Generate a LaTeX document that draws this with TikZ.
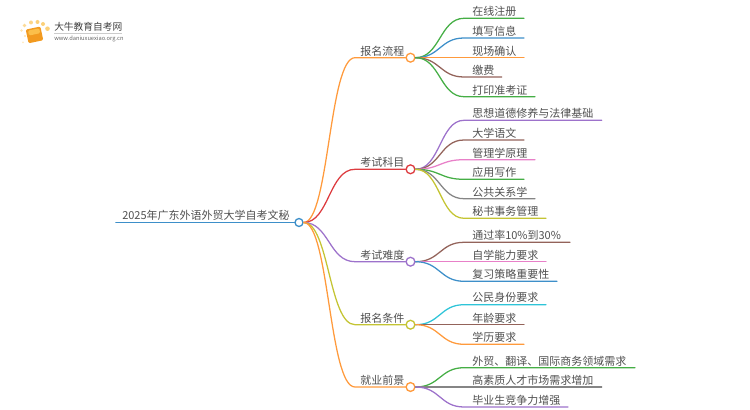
\documentclass[tikz,border=0pt]{standalone}
\usepackage{fontspec}
\setmainfont{Noto Sans CJK SC}
\usepackage{xcolor}
\usetikzlibrary{positioning}
\definecolor{cblue}{HTML}{3D8FC9}
\definecolor{corange}{HTML}{FF9A3C}
\definecolor{cgreen}{HTML}{45AE45}
\definecolor{cred}{HTML}{DD3C40}
\definecolor{cpurple}{HTML}{9D72CB}
\definecolor{cbrown}{HTML}{93635A}
\definecolor{cpink}{HTML}{E880C8}
\definecolor{cgray}{HTML}{858585}
\definecolor{colive}{HTML}{C4C433}
\definecolor{ccyan}{HTML}{2EC4D8}
\definecolor{ctext}{HTML}{505050}
\definecolor{cbook}{HTML}{F29A1F}
\definecolor{cpage}{HTML}{FBBF4A}
\definecolor{cspot}{HTML}{FBCB6A}
\tikzset{
  dot/.style={circle,draw,fill=white,line width=1pt,minimum size=6.6pt,inner sep=0pt},
  link/.style={line width=.95pt,line cap=round},
  label/.style={anchor=south west,inner sep=0pt,text=ctext,font=\fontsize{8.25pt}{9pt}\selectfont},
}

\begin{document}
\begin{tikzpicture}[x=0.75pt,y=-0.75pt]
\useasboundingbox (0,0) rectangle (750,410);

% link geometry
\def\rx{355} % where the first level links turn flat
\def\lx{464} % where the leaf links turn flat
\def\tx{472} % left edge of the leaf labels

% root
\node[dot,draw=cblue,minimum size=6pt] (root) at (299,222.5) {};
\coordinate (rootend) at (116,222.5);
\draw[link,cblue,line width=1.4pt] (root.west) -- (rootend);
\node[label] (roottext) at (122,220.9) {2025年广东外语外贸大学自考文秘};

% first level and leaves
\foreach \name/\y/\c/\t/\leaves in {
  flow/57.7/corange/报名流程/{18.3/524/cgreen/在线注册,38/524/cblue/填写信息,57.7/524/corange/现场确认,77/501.7/cbrown/缴费,96.7/535/cgreen/打印准考证},
  subj/169.3/cred/考试科目/{120.3/601.7/cpurple/思想道德修养与法律基础,140/524/cbrown/大学语文,159.7/535/cpink/管理学原理,179.3/524/cgreen/应用写作,198.7/535/cgray/公共关系学,218.3/546/colive/秘书事务管理},
  hard/261.7/cpurple/考试难度/{242.3/570/cbrown/通过率10\%到30\%,261.7/546/cpink/自学能力要求,281.3/557/cblue/复习策略重要性},
  cond/324.7/colive/报名条件/{304.7/546/ccyan/公民身份要求,324.7/524/cbrown/年龄要求,344.3/524/corange/学历要求},
  jobs/387/corange/就业前景/{367.7/635/cgreen/外贸、翻译、国际商务领域需求,387/601.7/cgray/高素质人才市场需求增加,407/568/cpurple/毕业生竞争力增强}%
}{
  \coordinate (\name turn) at (\rx,\y);
  \node[dot,draw=\c] (\name) at (410.5,\y) {};
  \node[label] (\name text) at (360,\y-1.5) {\t};
  \draw[link,\c] (root.east) .. controls (329,222.5) and (329,\y) .. (\name turn) -- (\name.west);
  \foreach \ly/\lend/\lc/\lt [count=\i] in \leaves {
    \coordinate (\name leaf\i) at (\lx,\ly);
    \coordinate (\name end\i) at (\lend,\ly);
    \node[label] (\name label\i) at (\tx,\ly-1.5) {\lt};
    \draw[link,\lc] (\name.east) .. controls (440,\y) and (440,\ly) .. (\name leaf\i) -- (\name end\i);
  }
}

% logo
\fill[cbook,rounded corners=1pt,rotate around={12:(34,35)}] (27,28) rectangle (42,42);
\fill[cpage,rounded corners=1pt,rotate around={12:(34,35)}] (29,29.5) rectangle (40.5,34.5);
\foreach \px/\py/\pr/\po in {31/22.5/2/.8,37.5/22/2/.9,43/24/2/.9,47.5/28.7/2.3/.9,24.5/25.5/1.8/.7,21.5/30.5/1.4/.5,25/36/1.2/.5,23/42.5/1/.4}{
  \fill[cspot,opacity=\po] (\px,\py) circle (\pr);
}
\node[anchor=west,inner sep=0pt,text=black!75,font=\fontsize{7.3pt}{8pt}\selectfont] (logotext) at (54,26.5) {大牛教育自考网};
\draw[black!20,line width=.4pt] (54,33) -- (122,33);
\node[anchor=west,inner sep=0pt,text=black!60,font=\fontsize{4.3pt}{5pt}\selectfont] (logourl) at (54,38.5) {www.daniuxuexiao.org.cn};
\end{tikzpicture}
\end{document}
